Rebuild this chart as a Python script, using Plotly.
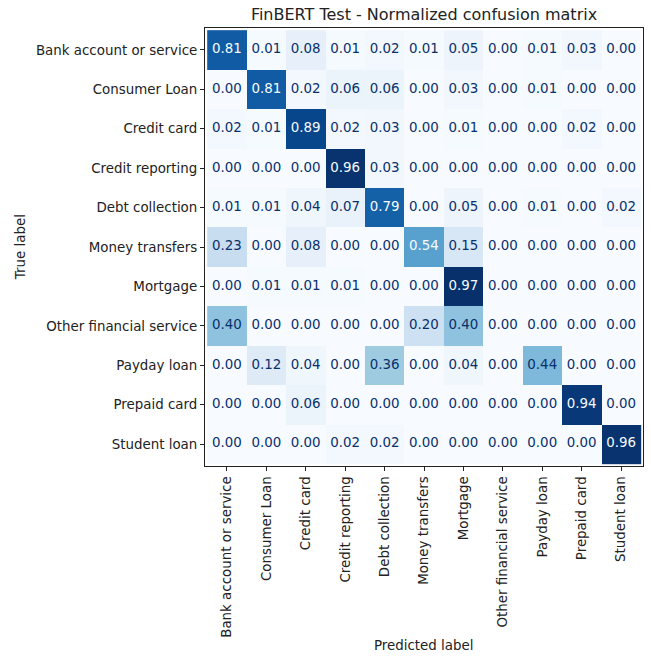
import plotly.graph_objects as go

labels = [
    "Bank account or service", "Consumer Loan", "Credit card", "Credit reporting",
    "Debt collection", "Money transfers", "Mortgage", "Other financial service",
    "Payday loan", "Prepaid card", "Student loan",
]

# Rows: true label, columns: predicted label (row-normalized)
matrix = [
    [0.81, 0.01, 0.08, 0.01, 0.02, 0.01, 0.05, 0.00, 0.01, 0.03, 0.00],
    [0.00, 0.81, 0.02, 0.06, 0.06, 0.00, 0.03, 0.00, 0.01, 0.00, 0.00],
    [0.02, 0.01, 0.89, 0.02, 0.03, 0.00, 0.01, 0.00, 0.00, 0.02, 0.00],
    [0.00, 0.00, 0.00, 0.96, 0.03, 0.00, 0.00, 0.00, 0.00, 0.00, 0.00],
    [0.01, 0.01, 0.04, 0.07, 0.79, 0.00, 0.05, 0.00, 0.01, 0.00, 0.02],
    [0.23, 0.00, 0.08, 0.00, 0.00, 0.54, 0.15, 0.00, 0.00, 0.00, 0.00],
    [0.00, 0.01, 0.01, 0.01, 0.00, 0.00, 0.97, 0.00, 0.00, 0.00, 0.00],
    [0.40, 0.00, 0.00, 0.00, 0.00, 0.20, 0.40, 0.00, 0.00, 0.00, 0.00],
    [0.00, 0.12, 0.04, 0.00, 0.36, 0.00, 0.04, 0.00, 0.44, 0.00, 0.00],
    [0.00, 0.00, 0.06, 0.00, 0.00, 0.00, 0.00, 0.00, 0.00, 0.94, 0.00],
    [0.00, 0.00, 0.00, 0.02, 0.02, 0.00, 0.00, 0.00, 0.00, 0.00, 0.96],
]

blues = ["#f7fbff", "#deebf7", "#c6dbef", "#9ecae1", "#6baed6",
         "#4292c6", "#2171b5", "#08519c", "#08306b"]
colorscale = [[i / (len(blues) - 1), c] for i, c in enumerate(blues)]

zmin = min(min(r) for r in matrix)
zmax = max(max(r) for r in matrix)
thresh = (zmin + zmax) / 2

FONT = "DejaVu Sans"
TXT = "#222222"
FS = 13.4

fig = go.Figure()
fig.add_trace(go.Heatmap(
    z=matrix, x=labels, y=labels,
    colorscale=colorscale, zmin=zmin, zmax=zmax,
    showscale=False, xgap=0, ygap=0, hoverinfo="skip",
))

xs, ys, txt, cols = [], [], [], []
for i, row in enumerate(matrix):
    for j, v in enumerate(row):
        xs.append(labels[j])
        ys.append(labels[i])
        txt.append(f"{v:.2f}")
        cols.append(blues[0] if v >= thresh else blues[-1])

fig.add_trace(go.Scatter(
    x=xs, y=ys, mode="text", text=txt,
    textfont=dict(family=FONT, size=FS, color=cols),
    hoverinfo="skip", showlegend=False,
))

axis_common = dict(
    showline=True, mirror=True, linecolor=TXT, linewidth=1,
    ticks="outside", ticklen=4, tickcolor=TXT, tickwidth=1,
    showgrid=False, zeroline=False, automargin=False,
    tickfont=dict(family=FONT, size=FS, color=TXT),
)

fig.update_layout(
    width=651, height=656,
    margin=dict(l=205, r=8, t=28, b=190),
    plot_bgcolor="white", paper_bgcolor="white",
    title=dict(text="FinBERT Test - Normalized confusion matrix",
               x=0.5, xref="paper", xanchor="center",
               y=1 - 14 / 656, yref="container", yanchor="middle",
               font=dict(family=FONT, size=16, color=TXT)),
    xaxis=dict(**axis_common, tickangle=-90),
    yaxis=dict(**axis_common, autorange="reversed"),
    showlegend=False,
)

# Axis titles placed as annotations relative to the plot area
fig.add_annotation(text="Predicted label", xref="paper", yref="paper",
                   x=0.5, y=-0.409, xanchor="center", yanchor="middle",
                   showarrow=False, font=dict(family=FONT, size=FS, color=TXT))
fig.add_annotation(text="True label", xref="paper", yref="paper",
                   x=-0.422, y=0.5, xanchor="center", yanchor="middle",
                   textangle=-90, showarrow=False,
                   font=dict(family=FONT, size=FS, color=TXT))

fig.write_html("out.html")
